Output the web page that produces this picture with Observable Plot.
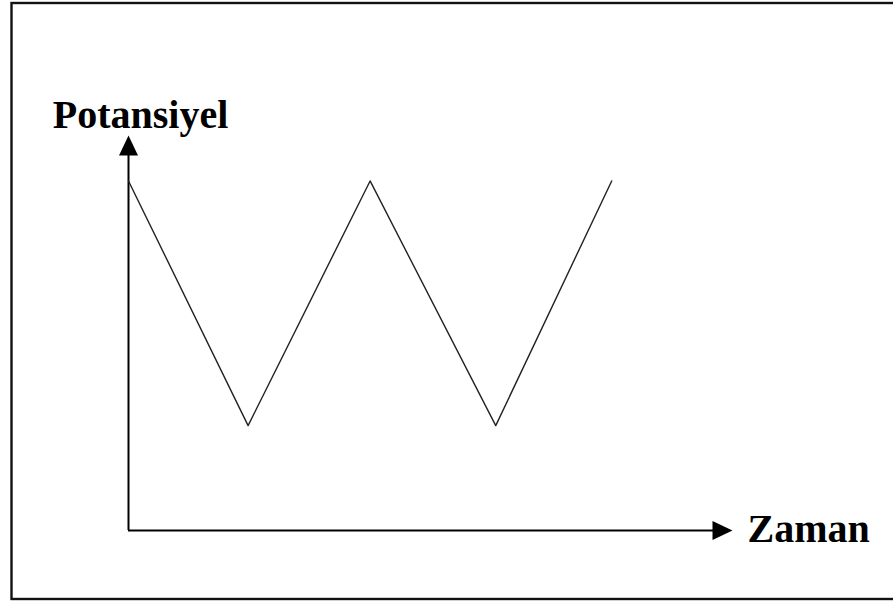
<!DOCTYPE html>
<html>
<head>
<meta charset="utf-8">
<script src="https://cdn.jsdelivr.net/npm/d3@7"></script>
<script src="https://cdn.jsdelivr.net/npm/@observablehq/plot@0.6"></script>
<style>
  html, body { margin: 0; padding: 0; background: #fff; }
</style>
</head>
<body>
<div id="chart"></div>
<script>
// Triangle-wave potential vs time (arbitrary units)
const zaman = [0, 9.9, 20, 30.4, 40];
const potansiyel = [1, 0.3, 1, 0.3, 1];
const xMax = 50;
const yMax = 1.13;
const yLabel = "Potansiyel";
const xLabel = "Zaman";

const wave = zaman.map((t, i) => ({t, v: potansiyel[i]}));

// filled arrowhead with its tip at the anchor point, pointing up
const arrowHead = {
  draw(context, size) {
    const h = 20, w = 19;
    context.moveTo(0, 0);
    context.lineTo(-w / 2, h);
    context.lineTo(w / 2, h);
    context.closePath();
  }
};

const font = "'Liberation Serif', 'Times New Roman', serif";

const chart = Plot.plot({
  width: 893,
  height: 603,
  marginLeft: 128,
  marginRight: 161,
  marginTop: 135,
  marginBottom: 73,
  x: {domain: [0, xMax], axis: null},
  y: {domain: [0, yMax], axis: null},
  style: {background: "#fff", fontFamily: font},
  marks: [
    Plot.frame({stroke: "#111", strokeWidth: 2.4,
      insetLeft: -117, insetTop: -132.5, insetRight: -172, insetBottom: -68.5}),
    // axes
    Plot.ruleX([0], {y1: 0, y2: yMax * 0.97, stroke: "#000", strokeWidth: 2}),
    Plot.ruleY([0], {x1: 0, x2: xMax * 0.97, stroke: "#000", strokeWidth: 2}),
    Plot.dot([{x: 0, y: yMax}], {x: "x", y: "y", symbol: arrowHead, fill: "#000", stroke: "none", r: 5}),
    Plot.dot([{x: xMax, y: 0}], {x: "x", y: "y", symbol: arrowHead, fill: "#000", stroke: "none", r: 5, rotate: 90}),
    // wave
    Plot.line(wave, {x: "t", y: "v", stroke: "#222", strokeWidth: 1.4}),
    // labels
    Plot.text([yLabel], {x: 0, y: yMax, text: d => d, dx: 12, dy: -8, textAnchor: "middle", lineAnchor: "bottom",
      fontSize: 40, fontWeight: "bold", fill: "#000"}),
    Plot.text([xLabel], {x: xMax, y: 0, text: d => d, dx: 15, dy: 11, textAnchor: "start", lineAnchor: "bottom",
      fontSize: 40, fontWeight: "bold", fill: "#000"})
  ]
});
document.getElementById("chart").appendChild(chart);
</script>
</body>
</html>
